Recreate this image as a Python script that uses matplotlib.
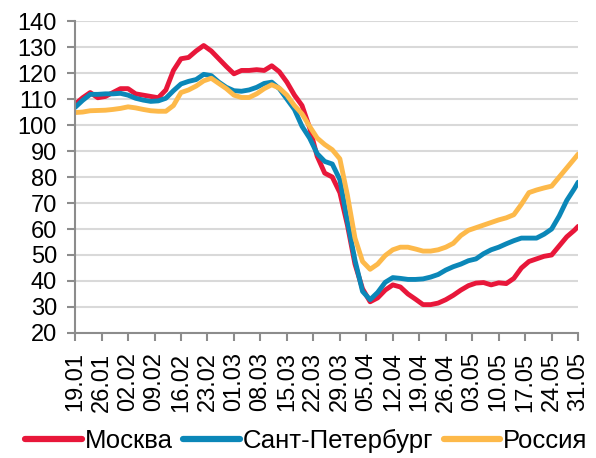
import numpy as np
import matplotlib
matplotlib.use("Agg")
import matplotlib.pyplot as plt

plt.rcParams["font.family"] = ["Liberation Sans", "DejaVu Sans"]

# days since 19.01 (sampled every 2 days, last point = 31.05)
days = list(range(0, 133, 2)) + [133]

moscow = [108, 110.5, 112.5, 110.5, 111, 112.5, 114, 114, 112, 111.5,
          111, 110.5, 113.5, 121, 125.5, 126, 128.5, 130.6, 128.5, 125.5,
          122.5, 119.7, 121, 121, 121.3, 121, 122.8, 120.5, 116.5, 111.5,
          107.5, 99, 88, 81.5, 80, 74, 61.5, 46.5, 37, 32,
          33.5, 36.5, 38.5, 37.7, 35, 33, 30.9, 30.9, 31.5, 32.8,
          34.5, 36.5, 38.2, 39.2, 39.4, 38.5, 39.3, 39, 41, 45,
          47.5, 48.5, 49.5, 50, 53.5, 57, 59.5, 61]

spb = [106.8, 109.5, 111.8, 111.8, 112, 112, 112.2, 111.5, 110.3, 109.6,
       109.1, 109.3, 110.3, 113.2, 115.8, 116.8, 117.5, 119.5, 119, 116.5,
       114.5, 113.2, 113, 113.5, 114.5, 116, 116.5, 114, 110, 106,
       99.5, 95, 89, 86, 85, 79, 63, 48, 36, 32.8,
       35.6, 39.5, 41.3, 41, 40.6, 40.6, 40.8, 41.5, 42.5, 44.2,
       45.5, 46.5, 47.8, 48.5, 50.5, 52, 53, 54.3, 55.5, 56.5,
       56.5, 56.5, 58, 60, 65, 71, 75.5, 78]

russia = [104.8, 105, 105.5, 105.6, 105.7, 106, 106.4, 107, 106.6, 106,
          105.5, 105.3, 105.3, 107.5, 112.5, 113.5, 115, 117, 118, 116,
          114, 111.5, 110.6, 110.6, 112, 114, 115.5, 114.2, 111.5, 107.5,
          104.3, 99.5, 95, 92.5, 90.5, 87, 73, 56.5, 47.5, 44.5,
          46.5, 49.8, 52, 53, 53, 52.3, 51.5, 51.5, 52, 53,
          54.5, 57.5, 59.5, 60.5, 61.5, 62.5, 63.5, 64.3, 65.5, 69.5,
          74, 75, 75.8, 76.5, 80, 83.5, 87, 88.8]

tick_labels = ["19.01", "26.01", "02.02", "09.02", "16.02", "23.02", "01.03",
               "08.03", "15.03", "22.03", "29.03", "05.04", "12.04", "19.04",
               "26.04", "03.05", "10.05", "17.05", "24.05", "31.05"]

RED = "#E8173A"
BLUE = "#0B87B8"
YELLOW = "#FDB94A"

fig = plt.figure(figsize=(5.96, 4.58), dpi=100)
ax = fig.add_axes([0.126, 0.273, 0.844, 0.681])

ax.plot(days, moscow, color=RED, lw=3.5, label="Москва", solid_capstyle="round")
ax.plot(days, spb, color=BLUE, lw=3.5, label="Сант-Петербург", solid_capstyle="round")
ax.plot(days, russia, color=YELLOW, lw=3.5, label="Россия", solid_capstyle="round")

ax.set_ylim(20, 140)
ax.set_yticks(np.arange(20, 141, 10))
ax.set_xlim(0, 133)
ax.set_xticks(np.arange(0, 134, 7))
ax.set_xticklabels(tick_labels, rotation=90)

ax.grid(axis="y", color="#D9D9D9", lw=1.5)
ax.set_axisbelow(True)
for s in ["top", "right"]:
    ax.spines[s].set_visible(False)
for s in ["left", "bottom"]:
    ax.spines[s].set_color("#8C8C8C")
    ax.spines[s].set_linewidth(1.5)
ax.tick_params(axis="both", colors="#8C8C8C", width=1.5, length=6,
               labelcolor="black", labelsize=17)
ax.tick_params(axis="y", pad=7)
ax.tick_params(axis="x", pad=8)

leg = ax.legend(loc="center", bbox_to_anchor=(0.46, -0.347), ncol=3, frameon=False,
                fontsize=18.5, handlelength=2.2, handletextpad=0.12, columnspacing=0.4,
                borderaxespad=0, borderpad=0)
for h in leg.get_lines():
    h.set_linewidth(4.5)

fig.savefig("out.png", dpi=100)
